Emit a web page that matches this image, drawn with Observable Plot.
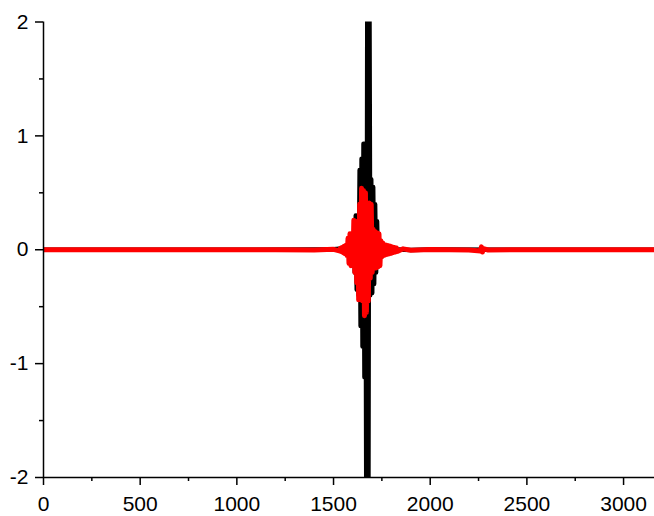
<!DOCTYPE html>
<html><head><meta charset="utf-8">
<script src="https://cdn.jsdelivr.net/npm/d3@7"></script>
<script src="https://cdn.jsdelivr.net/npm/@observablehq/plot@0.6"></script>
<style>body{margin:0;background:#fff} svg{display:block}</style>
</head><body><div id="chart"></div>
<script>
const xMajor = [0, 500, 1000, 1500, 2000, 2500, 3000];
const xMinor = [250, 750, 1250, 1750, 2250, 2750];
const yMajor = [-2, -1, 0, 1, 2];
const yMinor = [-1.5, -0.5, 0.5, 1.5];

const blackX = [0, 500, 1000, 1400, 1500, 1530, 1535, 1540, 1545, 1550, 1555, 1560, 1565, 1570, 1575, 1580, 1585, 1590, 1595, 1600, 1605, 1610, 1615, 1620, 1625, 1630, 1635, 1640, 1645, 1650, 1655, 1660, 1665, 1670, 1675, 1680, 1685, 1690, 1695, 1700, 1705, 1710, 1715, 1720, 1725, 1730, 1735, 1740, 1745, 1750, 1755, 1760, 1765, 1770, 1775, 1780, 1800, 1900, 2000, 2500, 3160];
const blackY = [0, 0.001, -0.001, 0.002, 0.004, 0.01, -0.01, 0.015, -0.015, 0.02, -0.02, 0.025, -0.03, 0.035, -0.04, 0.04, -0.05, 0.05, 0.07, -0.09, 0.12, -0.2, 0.3, -0.35, 0.3, -0.4, 0.7, -0.67, 0.8, -0.85, 0.93, -1.12, 0.93, -2.6, 2.6, -2.6, 2.6, -0.4, 0.62, -0.38, 0.55, -0.3, 0.4, -0.2, 0.25, -0.12, 0.1, -0.08, 0.07, -0.06, 0.05, -0.04, 0.035, -0.03, 0.02, -0.015, 0.005, -0.003, 0.002, -0.001, 0];

const redX = [0, 200, 400, 600, 800, 1000, 1200, 1400, 1500, 1530, 1535, 1540, 1545, 1550, 1555, 1560, 1565, 1570, 1575, 1580, 1585, 1590, 1595, 1600, 1605, 1610, 1615, 1620, 1625, 1630, 1635, 1640, 1645, 1650, 1655, 1660, 1665, 1670, 1675, 1680, 1685, 1690, 1695, 1700, 1705, 1710, 1715, 1720, 1725, 1730, 1735, 1740, 1745, 1750, 1755, 1760, 1765, 1770, 1775, 1780, 1785, 1790, 1795, 1800, 1805, 1810, 1815, 1820, 1825, 1830, 1860, 1900, 2000, 2200, 2260, 2265, 2270, 2275, 2300, 2500, 2700, 2900, 3160];
const redY = [0.001, -0.001, 0.001, -0.001, 0.001, -0.001, 0.001, -0.002, 0.004, -0.01, 0.012, -0.015, 0.02, -0.025, 0.03, -0.035, 0.04, -0.05, 0.1, -0.12, 0.14, -0.14, 0.14, -0.14, 0.26, -0.2, 0.24, -0.29, 0.25, -0.44, 0.4, -0.38, 0.54, -0.45, 0.52, -0.58, 0.5, -0.55, 0.3, -0.45, 0.41, -0.25, 0.4, -0.2, 0.18, -0.16, 0.16, -0.16, 0.15, -0.15, 0.14, -0.14, 0.08, -0.06, 0.06, -0.05, 0.045, -0.045, 0.04, -0.04, 0.035, -0.035, 0.03, -0.03, 0.025, -0.025, 0.02, -0.02, 0.015, -0.015, 0.008, -0.004, 0.002, -0.002, -0.01, 0.025, -0.02, 0.01, -0.002, 0.001, -0.001, 0.001, 0];

const black = blackX.map((x, i) => ({x, y: blackY[i]}));
const red = redX.map((x, i) => ({x, y: redY[i]}));
const fmt = d => String(d);
const none = () => "";

const chart = Plot.plot({
  width: 654, height: 516,
  marginLeft: 43, marginRight: 0, marginTop: 21.5, marginBottom: 39,
  style: {fontFamily: "'Liberation Sans', Arial, sans-serif", fontSize: "21px", color: "#000", background: "#fff", overflow: "visible"},
  x: {domain: [0, 3160]},
  y: {domain: [-2, 2]},
  marks: [
    Plot.line(black, {x: "x", y: "y", stroke: "#000", strokeWidth: 4.5, strokeLinejoin: "round", clip: true}),
    Plot.line(red, {x: "x", y: "y", stroke: "#ff0000", strokeWidth: 5, strokeLinejoin: "round", clip: true}),
    Plot.axisX({ticks: xMajor, tickSize: 8, tickPadding: 11, tickFormat: fmt, label: null, stroke: "#000", strokeWidth: 1.5}),
    Plot.axisX({ticks: xMinor, tickSize: 4, tickFormat: none, label: null, stroke: "#000", strokeWidth: 1.5}),
    Plot.axisY({ticks: yMajor, tickSize: 8, tickPadding: 7, tickFormat: fmt, label: null, stroke: "#000", strokeWidth: 1.5}),
    Plot.axisY({ticks: yMinor, tickSize: 4, tickFormat: none, label: null, stroke: "#000", strokeWidth: 1.5}),
    Plot.ruleX([0], {stroke: "#000", strokeWidth: 1.5}),
    Plot.ruleY([-2], {stroke: "#000", strokeWidth: 1.5})
  ]
});
document.getElementById("chart").appendChild(chart);
</script>
</body></html>
